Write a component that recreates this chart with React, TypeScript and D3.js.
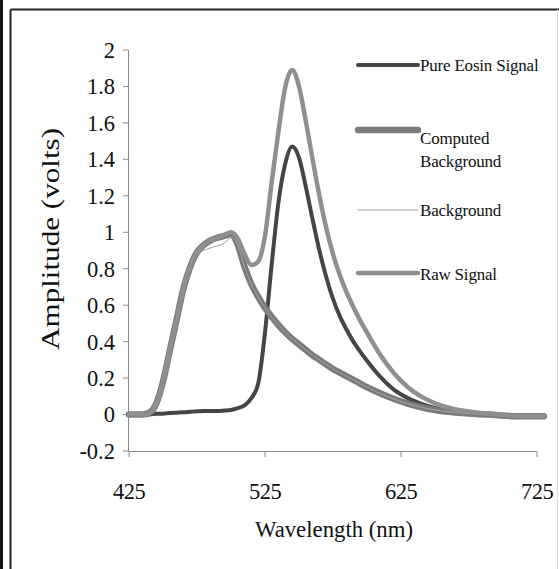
import React from "react";
import * as d3 from "d3";

// wavelength (nm) sample points
const wavelengths = [
  425, 430, 435, 440, 445, 450, 455, 460, 465, 470, 475, 480, 485, 490, 495, 500,
  505, 510, 515, 520, 525, 530, 535, 540, 545, 550, 555, 560, 565, 570, 575, 580,
  585, 590, 595, 600, 610, 620, 630, 640, 650, 660, 670, 680, 690, 700, 710, 720, 730,
];

const pureEosin = [
  0, 0, 0, 0, 0.005, 0.005, 0.008, 0.01, 0.012, 0.015, 0.018, 0.02, 0.02, 0.02, 0.022, 0.025,
  0.035, 0.05, 0.09, 0.17, 0.45, 0.83, 1.17, 1.38, 1.47, 1.41, 1.25, 1.07, 0.9, 0.755, 0.635, 0.54,
  0.465, 0.4, 0.345, 0.295, 0.205, 0.135, 0.09, 0.058, 0.036, 0.022, 0.012, 0.006, 0.002, -0.004, -0.008, -0.01, -0.01,
];

const computedBackground = [
  0, 0, 0, 0.01, 0.06, 0.18, 0.35, 0.52, 0.69, 0.81, 0.89, 0.93, 0.955, 0.97, 0.98, 0.99,
  0.93, 0.81, 0.715, 0.645, 0.585, 0.535, 0.49, 0.45, 0.415, 0.385, 0.355, 0.325, 0.3, 0.275, 0.25, 0.23,
  0.21, 0.19, 0.17, 0.15, 0.115, 0.085, 0.06, 0.04, 0.025, 0.015, 0.008, 0.003, 0, -0.005, -0.01, -0.01, -0.01,
];

const background = [
  0, 0, 0, 0.01, 0.06, 0.18, 0.35, 0.52, 0.69, 0.81, 0.88, 0.9, 0.915, 0.925, 0.94, 0.97,
  0.93, 0.81, 0.715, 0.645, 0.585, 0.535, 0.49, 0.45, 0.415, 0.385, 0.355, 0.325, 0.3, 0.275, 0.25, 0.23,
  0.21, 0.19, 0.17, 0.15, 0.115, 0.085, 0.06, 0.04, 0.025, 0.015, 0.008, 0.003, 0, -0.005, -0.01, -0.01, -0.01,
];

const rawSignal = [
  0, 0, 0, 0.01, 0.06, 0.18, 0.35, 0.52, 0.69, 0.81, 0.89, 0.93, 0.955, 0.97, 0.985, 1.0,
  0.965, 0.88, 0.82, 0.84, 0.98, 1.28, 1.56, 1.8, 1.89, 1.8, 1.61, 1.4, 1.2, 1.025, 0.88, 0.765,
  0.67, 0.59, 0.515, 0.45, 0.325, 0.225, 0.15, 0.098, 0.062, 0.038, 0.022, 0.011, 0.004, -0.002, -0.007, -0.01, -0.01,
];

const xTicks = [425, 525, 625, 725];
const yTicks = [-0.2, 0, 0.2, 0.4, 0.6, 0.8, 1, 1.2, 1.4, 1.6, 1.8, 2];

const seriesNames = ["Pure Eosin Signal", "Computed Background", "Background", "Raw Signal"];
const seriesValues = [pureEosin, computedBackground, background, rawSignal];
const seriesStyles = [
  { color: "#454545", width: 4 },
  { color: "#7b7b7b", width: 6.5 },
  { color: "#a3a3a3", width: 1 },
  { color: "#8f8f8f", width: 4.5 },
];

const W = 559;
const H = 569;

export default function App() {
  const x = d3.scaleLinear().domain([425, 725]).range([129, 537]);
  const y = d3.scaleLinear().domain([-0.2, 2]).range([451, 50]);

  const line = d3
    .line<number>()
    .x((_, i) => x(wavelengths[i]))
    .y((d) => y(d))
    .curve(d3.curveMonotoneX);

  const serif = "Liberation Serif, Times New Roman, serif";

  // legend rows: sample line y, label baseline
  const legendRows = [
    { ly: 65, lines: ["Pure Eosin Signal"], ty: 71 },
    { ly: 130, lines: ["Computed", "Background"], ty: 144 },
    { ly: 210, lines: ["Background"], ty: 216 },
    { ly: 273, lines: ["Raw Signal"], ty: 280 },
  ];

  return (
    <svg
      width={W}
      height={H}
      style={{ position: "absolute", left: 0, top: 0, background: "#fff" }}
      fontFamily={serif}
    >
      {/* frame */}
      <rect x={0} y={0} width={3} height={H} fill="#111" />
      <line x1={10.5} y1={9.5} x2={W} y2={9.5} stroke="#222" strokeWidth={2} />
      <line x1={10.5} y1={9.5} x2={10.5} y2={H} stroke="#222" strokeWidth={2} />
      <line x1={557.5} y1={9.5} x2={557.5} y2={H} stroke="#ddd" strokeWidth={1} />

      {/* y axis */}
      <line x1={128.5} y1={y(2)} x2={128.5} y2={y(-0.2)} stroke="#8a8a8a" />
      {yTicks.map((t) => (
        <g key={t}>
          <line x1={123} x2={128.5} y1={y(t)} y2={y(t)} stroke="#8a8a8a" />
          <text x={115} y={y(t)} dy="0.35em" textAnchor="end" fontSize={22.5} fill="#111">
            {t}
          </text>
        </g>
      ))}

      {/* x axis */}
      <line x1={128.5} y1={451.5} x2={x(725)} y2={451.5} stroke="#8a8a8a" />
      {xTicks.map((t) => (
        <g key={t}>
          <line x1={x(t)} x2={x(t)} y1={451.5} y2={457} stroke="#8a8a8a" />
          <text x={x(t)} y={499} textAnchor="middle" fontSize={22.5} fill="#111" letterSpacing={-0.5}>
            {t}
          </text>
        </g>
      ))}

      {/* axis titles */}
      <text
        x={255}
        y={537}
        fontSize={22.5}
        fill="#111"
        textLength={158}
        lengthAdjust="spacingAndGlyphs"
      >
        Wavelength (nm)
      </text>
      <text
        transform="translate(59,350) rotate(-90)"
        fontSize={26}
        fill="#111"
        textLength={222}
        lengthAdjust="spacingAndGlyphs"
      >
        Amplitude (volts)
      </text>

      {/* series */}
      {seriesValues.map((vals, i) => (
        <path
          key={seriesNames[i]}
          d={line(vals) || ""}
          fill="none"
          stroke={seriesStyles[i].color}
          strokeWidth={seriesStyles[i].width}
          strokeLinejoin="round"
          strokeLinecap="round"
        />
      ))}

      {/* legend */}
      {legendRows.map((r, i) => (
        <g key={seriesNames[i]}>
          <line
            x1={358}
            x2={418}
            y1={r.ly}
            y2={r.ly}
            stroke={seriesStyles[i].color}
            strokeWidth={seriesStyles[i].width}
            strokeLinecap="round"
          />
          {r.lines.map((s, j) => (
            <text key={s} x={420} y={r.ty + j * 23} fontSize={17} fill="#111" letterSpacing={-0.2}>
              {s}
            </text>
          ))}
        </g>
      ))}
    </svg>
  );
}
